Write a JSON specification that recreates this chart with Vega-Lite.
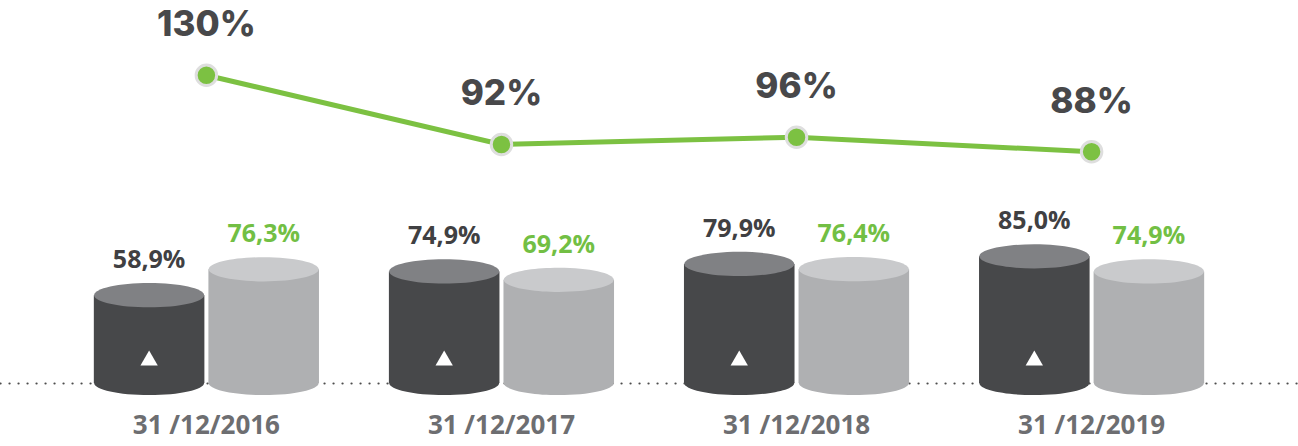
{
  "$schema": "https://vega.github.io/schema/vega-lite/v6.json",
  "width": 1298,
  "height": 383,
  "padding": {"left": 0, "right": 0, "top": 0, "bottom": 63},
  "autosize": {"type": "none"},
  "background": "white",
  "config": {
    "view": {"stroke": null},
    "locale": {"number": {"decimal": ",", "thousands": ".", "grouping": [3], "currency": ["", "%"]}}
  },
  "datasets": {
    "bars": [
      {"date": "31 /12/2016", "series": "s1", "value": 58.9},
      {"date": "31 /12/2016", "series": "s2", "value": 76.3},
      {"date": "31 /12/2017", "series": "s1", "value": 74.9},
      {"date": "31 /12/2017", "series": "s2", "value": 69.2},
      {"date": "31 /12/2018", "series": "s1", "value": 79.9},
      {"date": "31 /12/2018", "series": "s2", "value": 76.4},
      {"date": "31 /12/2019", "series": "s1", "value": 85.0},
      {"date": "31 /12/2019", "series": "s2", "value": 74.9}
    ],
    "ratio": [
      {"date": "31 /12/2016", "ratio": 130},
      {"date": "31 /12/2017", "ratio": 92},
      {"date": "31 /12/2018", "ratio": 96},
      {"date": "31 /12/2019", "ratio": 88}
    ]
  },
  "encoding": {
    "x": {
      "field": "date", "type": "nominal", "sort": null,
      "scale": {"paddingInner": 0.237, "paddingOuter": 0.318},
      "axis": {
        "title": null, "ticks": false, "labelAngle": 0,
        "domain": true, "domainColor": "#4d4d4d", "domainWidth": 2.2,
        "domainDash": [0.1, 8.9], "domainCap": "round",
        "labelFont": "Open Sans", "labelFontSize": 26, "labelFontWeight": "bold",
        "labelColor": "#6d6e71", "labelPadding": 29
      }
    }
  },
  "layer": [
    {
      "data": {"name": "bars"},
      "encoding": {
        "xOffset": {"field": "series", "type": "nominal", "scale": {"paddingInner": 0.035, "paddingOuter": 0}},
        "y": {"field": "value", "type": "quantitative", "scale": {"domain": [0, 257], "nice": false, "zero": false}, "axis": null}
      },
      "layer": [
        {
          "mark": {"type": "point", "filled": true, "opacity": 1, "size": 12100,
                   "shape": "M-1,0A1,0.22,0,1,0,1,0A1,0.22,0,1,0,-1,0Z"},
          "encoding": {
            "y": {"datum": 0},
            "color": {"condition": {"test": "datum.series === 's1'", "value": "#47484a"}, "value": "#afb0b2"}
          }
        },
        {
          "mark": {"type": "bar"},
          "encoding": {
            "color": {"condition": {"test": "datum.series === 's1'", "value": "#47484a"}, "value": "#afb0b2"}
          }
        },
        {
          "mark": {"type": "point", "filled": true, "opacity": 1, "size": 12100,
                   "shape": "M-1,0A1,0.22,0,1,0,1,0A1,0.22,0,1,0,-1,0Z"},
          "encoding": {
            "color": {"condition": {"test": "datum.series === 's1'", "value": "#808184"}, "value": "#c9cacc"}
          }
        },
        {
          "transform": [{"filter": "datum.series === 's1'"}],
          "mark": {"type": "point", "filled": true, "opacity": 1, "shape": "triangle-up", "size": 300, "color": "white"},
          "encoding": {"y": {"datum": 16.8}}
        },
        {
          "mark": {"type": "text", "baseline": "middle", "dy": -35, "font": "Open Sans", "fontSize": 25, "fontWeight": "bold"},
          "encoding": {
            "text": {"field": "value", "type": "quantitative", "format": "$.1f"},
            "color": {"condition": {"test": "datum.series === 's1'", "value": "#404042"}, "value": "#72bf44"}
          }
        }
      ]
    },
    {
      "data": {"name": "ratio"},
      "encoding": {
        "y": {"field": "ratio", "type": "quantitative", "scale": {"domain": [-38.9, 171.3], "nice": false, "zero": false}, "axis": null}
      },
      "layer": [
        {"mark": {"type": "line", "color": "#7cc142", "strokeWidth": 5}},
        {"mark": {"type": "point", "filled": true, "opacity": 1, "size": 420, "color": "#7cc142", "stroke": "#dedede", "strokeWidth": 3}},
        {
          "mark": {"type": "text", "baseline": "middle", "dy": -50, "font": "Inter", "fontSize": 35, "fontWeight": 800, "color": "#48484a"},
          "encoding": {"text": {"field": "ratio", "type": "quantitative", "format": "$.0f"}}
        }
      ]
    }
  ],
  "resolve": {"scale": {"y": "independent"}}
}
